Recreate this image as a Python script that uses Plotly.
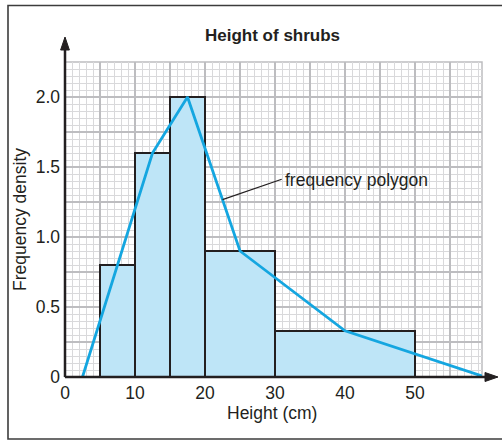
import numpy as np
import plotly.graph_objects as go

# ---------------- data ----------------
class_lower = [5, 10, 15, 20, 30]
class_upper = [10, 15, 20, 30, 50]
freq_density = [0.8, 1.6, 2.0, 0.9, 0.33]

polygon_x = [2.5, 7.5, 12.5, 17.5, 25, 40, 60]
polygon_y = [0, 0.8, 1.6, 2.0, 0.9, 0.33, 0]

x_tick_vals = [0, 5, 10, 15, 20, 25, 30, 35, 40, 45, 50, 55]
x_tick_text = ["0", "", "10", "", "20", "", "30", "", "40", "", "50", ""]
y_tick_vals = [0, 0.25, 0.5, 0.75, 1.0, 1.25, 1.5, 1.75, 2.0]
y_tick_text = ["0", "", "0.5", "", "1.0", "", "1.5", "", "2.0"]

title_text = "Height of shrubs"
x_title = "Height (cm)"
y_title = "Frequency density"
label_text = "frequency polygon"

# ---------------- layout helpers ----------------
W, H = 502, 440
PL, PT, PW, PH = 65, 62, 417, 315
FONT = "Liberation Sans, Arial, Helvetica, sans-serif"
FS = 17.5
INK = "#231f20"
BAR_FILL = "#bee5f7"
POLY = "#14a6e0"
GRID_MAJOR = "#bdbdc0"
GRID_MINOR = "#d9d9db"


def px(xp):
    return (xp - PL) / PW


def py(yp):
    return (PT + PH - yp) / PH


mids = [(a + b) / 2 for a, b in zip(class_lower, class_upper)]
widths = [b - a for a, b in zip(class_lower, class_upper)]

fig = go.Figure()
fig.add_trace(go.Bar(
    x=mids, y=freq_density, width=widths,
    marker=dict(color=BAR_FILL, line=dict(color=INK, width=2)),
    hoverinfo="skip", showlegend=False,
))
fig.add_trace(go.Scatter(
    x=polygon_x, y=polygon_y, mode="lines",
    line=dict(color=POLY, width=2.8),
    hoverinfo="skip", showlegend=False,
))

shapes = []
# grid border (top/right)
shapes.append(dict(type="rect", xref="paper", yref="paper", x0=0, y0=0, x1=1, y1=1,
                   line=dict(color=GRID_MAJOR, width=1.5), layer="below"))
# y axis line + arrow
shapes.append(dict(type="line", xref="paper", yref="paper", x0=0, y0=0, x1=0, y1=py(48),
                   line=dict(color=INK, width=2.5), layer="above"))
shapes.append(dict(type="path", xref="paper", yref="paper",
                   path=f"M {px(60.6)} {py(50)} L {px(65)} {py(37)} L {px(69.4)} {py(50)} Z",
                   fillcolor=INK, line=dict(color=INK, width=1), layer="above"))
# x axis line + arrow
shapes.append(dict(type="line", xref="paper", yref="paper", x0=0, y0=0, x1=px(487), y1=0,
                   line=dict(color=INK, width=2.5), layer="above"))
shapes.append(dict(type="path", xref="paper", yref="paper",
                   path=f"M {px(485)} {py(372.5)} L {px(498)} {py(377)} L {px(485)} {py(381.5)} Z",
                   fillcolor=INK, line=dict(color=INK, width=1), layer="above"))
# outer frame
shapes.append(dict(type="rect", xref="paper", yref="paper",
                   x0=px(8), y0=py(439), x1=px(520), y1=py(5.5),
                   line=dict(color="#3c3c3c", width=1.6), layer="above"))
# leader line for label
lead_x0 = 22.5
lead_y0 = float(np.interp(lead_x0, polygon_x, polygon_y))
shapes.append(dict(type="line", xref="x", yref="y",
                   x0=lead_x0, y0=lead_y0, x1=(281.7 - PL) / 7, y1=(PT + PH - 179.3) / 140,
                   line=dict(color=INK, width=1.2), layer="above"))

annotations = [
    dict(text=f"<b>{title_text}</b>", xref="paper", yref="paper", x=px(272.5), y=py(35),
         xanchor="center", yanchor="middle", showarrow=False,
         font=dict(family=FONT, size=17, color=INK)),
    dict(text=x_title, xref="paper", yref="paper", x=px(272), y=py(413),
         xanchor="center", yanchor="middle", showarrow=False,
         font=dict(family=FONT, size=FS, color=INK)),
    dict(text=y_title, xref="paper", yref="paper", x=px(20), y=py(220),
         xanchor="center", yanchor="middle", showarrow=False, textangle=-90,
         font=dict(family=FONT, size=FS, color=INK)),
    dict(text=label_text, xref="paper", yref="paper", x=px(282.5), y=py(180),
         xanchor="left", yanchor="middle", showarrow=False,
         font=dict(family=FONT, size=FS, color=INK)),
]

fig.update_layout(
    width=W, height=H,
    margin=dict(l=PL, r=W - PL - PW, t=PT, b=H - PT - PH, pad=0),
    paper_bgcolor="white", plot_bgcolor="white",
    font=dict(family=FONT, size=FS, color=INK),
    shapes=shapes, annotations=annotations,
    showlegend=False,
    bargap=0,
)
fig.update_xaxes(
    range=[0, PW / 7], tickmode="array", tickvals=x_tick_vals, ticktext=x_tick_text,
    showgrid=True, gridcolor=GRID_MAJOR, gridwidth=1.5,
    minor=dict(tickmode="linear", tick0=0, dtick=1, showgrid=True, gridcolor=GRID_MINOR, gridwidth=1),
    showline=False, zeroline=False, ticks="", ticklabelstandoff=3,
    tickfont=dict(family=FONT, size=FS, color=INK), fixedrange=True,
)
fig.update_yaxes(
    range=[0, PH / 140], tickmode="array", tickvals=y_tick_vals, ticktext=y_tick_text,
    showgrid=True, gridcolor=GRID_MAJOR, gridwidth=1.5,
    minor=dict(tickmode="linear", tick0=0, dtick=0.05, showgrid=True, gridcolor=GRID_MINOR, gridwidth=1),
    showline=False, zeroline=False, ticks="", ticklabelstandoff=4,
    tickfont=dict(family=FONT, size=FS, color=INK), fixedrange=True,
)

fig.write_html(
    "out.html",
    config={"displayModeBar": False},
    post_script="document.body.style.margin='0';document.documentElement.style.overflow='hidden';",
)
